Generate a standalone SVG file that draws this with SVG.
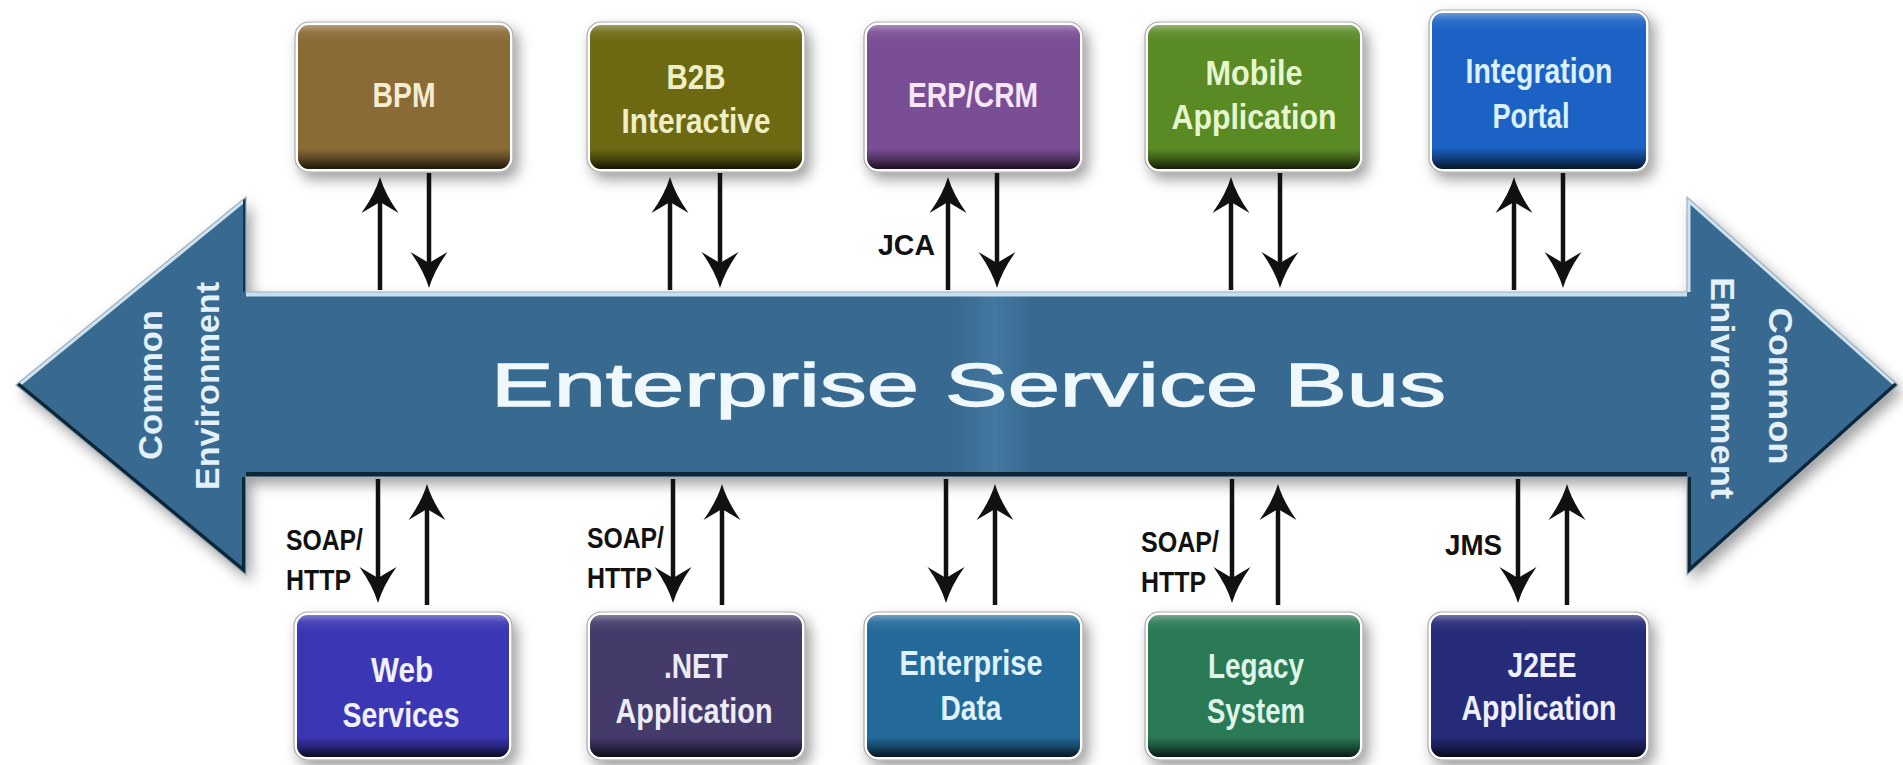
<svg xmlns="http://www.w3.org/2000/svg" width="1903" height="765" viewBox="0 0 1903 765">
<style>
  .frame { fill:#ffffff; stroke:#a9a9a9; stroke-width:1.2; }
  .lbl { font-family:"Liberation Sans Narrow","Liberation Sans",Arial,sans-serif; font-weight:bold; font-size:35px; text-anchor:middle; }
  .proto { font-family:"Liberation Sans Narrow","Liberation Sans",Arial,sans-serif; font-weight:bold; font-size:29px; fill:#111111; }
  .side { font-family:"Liberation Sans",Arial,sans-serif; font-weight:bold; font-size:34px; fill:#e2f1fb; text-anchor:middle; }
  .title { font-family:"Liberation Sans",Arial,sans-serif; font-size:62px; fill:#eef8fd; stroke:#eef8fd; stroke-width:1.3; }
  .conn line { stroke:#111111; stroke-width:4.5; fill:none; }
</style>
<defs>
  <filter id="sh" x="-15%" y="-15%" width="135%" height="145%">
    <feDropShadow dx="5" dy="7" stdDeviation="7" flood-color="#000000" flood-opacity="0.38"/>
  </filter>
  <linearGradient id="bevel" x1="0" y1="0" x2="0" y2="1">
    <stop offset="0" stop-color="#ffffff" stop-opacity="0.35"/>
    <stop offset="0.05" stop-color="#ffffff" stop-opacity="0.08"/>
    <stop offset="0.12" stop-color="#ffffff" stop-opacity="0"/>
    <stop offset="0.86" stop-color="#000000" stop-opacity="0"/>
    <stop offset="0.93" stop-color="#000000" stop-opacity="0.35"/>
    <stop offset="1" stop-color="#000000" stop-opacity="0.8"/>
  </linearGradient>
  <linearGradient id="busfill" gradientUnits="userSpaceOnUse" x1="16" y1="0" x2="1898" y2="0">
    <stop offset="0" stop-color="#386a90"/>
    <stop offset="0.5" stop-color="#386a91"/>
    <stop offset="0.52" stop-color="#4477a0"/>
    <stop offset="0.54" stop-color="#386a91"/>
    <stop offset="1" stop-color="#376990"/>
  </linearGradient>
  <clipPath id="busclip">
    <polygon points="16,385 246,197 246,292 1687,292 1687,197 1898,385 1687,575 1687,477 246,477 246,575"/>
  </clipPath>
  <marker id="ah" markerUnits="userSpaceOnUse" markerWidth="38" markerHeight="40" viewBox="0 -20 38 40" refX="11" refY="0" orient="auto">
    <path d="M36,0 Q19,-5 0,-18.5 L11,0 L0,18.5 Q19,5 36,0 Z" fill="#111111"/>
  </marker>
</defs>

<rect width="1903" height="765" fill="#ffffff"/>

<!-- Bus -->
<g id="bus">
  <polygon points="16,385 246,197 246,292 1687,292 1687,197 1898,385 1687,575 1687,477 246,477 246,575" fill="url(#busfill)" filter="url(#sh)"/>
  <g clip-path="url(#busclip)" fill="none">
    <polyline points="16,385 246,197" stroke="#cfe2ef" stroke-width="7"/>
    <line x1="246" y1="292" x2="1687" y2="292" stroke="#c9dfee" stroke-width="9"/>
    <polyline points="1687,292 1687,197 1898,385" stroke="#cfe2ef" stroke-width="7"/>
    <polyline points="1898,385 1687,575 1687,477" stroke="#0d2638" stroke-width="8"/>
    <line x1="246" y1="477" x2="1687" y2="477" stroke="#0d2638" stroke-width="10"/>
    <polyline points="246,477 246,575 16,385" stroke="#0d2638" stroke-width="8"/>
    <line x1="246" y1="197" x2="246" y2="292" stroke="#153550" stroke-width="6"/>
  </g>
  <polygon points="16,385 246,197 246,292 1687,292 1687,197 1898,385 1687,575 1687,477 246,477 246,575" fill="none" stroke="#9fb2c0" stroke-width="1.2"/>
  <text class="title" x="491" y="406" textLength="955" lengthAdjust="spacingAndGlyphs">Enterprise Service Bus</text>
  <text class="side" transform="translate(162,385) rotate(-90)" textLength="150" lengthAdjust="spacingAndGlyphs">Common</text>
  <text class="side" transform="translate(219,386) rotate(-90)" textLength="208" lengthAdjust="spacingAndGlyphs">Environment</text>
  <text class="side" transform="translate(1769,386) rotate(90)" textLength="157" lengthAdjust="spacingAndGlyphs">Common</text>
  <text class="side" transform="translate(1711,388) rotate(90)" textLength="222" lengthAdjust="spacingAndGlyphs">Enivronment</text>
</g>

<!-- Top nodes -->
<g id="bpm">
  <rect class="frame" x="295" y="22" width="218" height="150" rx="14" filter="url(#sh)"/>
  <rect x="298" y="25" width="212" height="144" rx="11" fill="#8a6a35"/>
  <rect x="298" y="25" width="212" height="144" rx="11" fill="url(#bevel)"/>
  <text class="lbl" x="404" y="107" fill="#f6ecd0" textLength="63" lengthAdjust="spacingAndGlyphs">BPM</text>
</g>
<g id="b2b">
  <rect class="frame" x="587" y="22" width="218" height="150" rx="14" filter="url(#sh)"/>
  <rect x="590" y="25" width="212" height="144" rx="11" fill="#6c6912"/>
  <rect x="590" y="25" width="212" height="144" rx="11" fill="url(#bevel)"/>
  <text class="lbl" x="696" y="89" fill="#efeec4" textLength="59" lengthAdjust="spacingAndGlyphs">B2B</text>
  <text class="lbl" x="696" y="133" fill="#efeec4" textLength="149" lengthAdjust="spacingAndGlyphs">Interactive</text>
</g>
<g id="erp">
  <rect class="frame" x="864" y="22" width="219" height="150" rx="14" filter="url(#sh)"/>
  <rect x="867" y="25" width="213" height="144" rx="11" fill="#7a4e94"/>
  <rect x="867" y="25" width="213" height="144" rx="11" fill="url(#bevel)"/>
  <text class="lbl" x="973" y="107" fill="#f7e6f8" textLength="130" lengthAdjust="spacingAndGlyphs">ERP/CRM</text>
</g>
<g id="mobile">
  <rect class="frame" x="1145" y="22" width="218" height="150" rx="14" filter="url(#sh)"/>
  <rect x="1148" y="25" width="212" height="144" rx="11" fill="#5a8a24"/>
  <rect x="1148" y="25" width="212" height="144" rx="11" fill="url(#bevel)"/>
  <text class="lbl" x="1254" y="85" fill="#e6f6cf" textLength="97" lengthAdjust="spacingAndGlyphs">Mobile</text>
  <text class="lbl" x="1254" y="129" fill="#e6f6cf" textLength="165" lengthAdjust="spacingAndGlyphs">Application</text>
</g>
<g id="portal">
  <rect class="frame" x="1429" y="10" width="220" height="162" rx="14" filter="url(#sh)"/>
  <rect x="1432" y="13" width="214" height="156" rx="11" fill="#1b62c4"/>
  <rect x="1432" y="13" width="214" height="156" rx="11" fill="url(#bevel)"/>
  <text class="lbl" x="1539" y="83" fill="#dbf1ff" textLength="147" lengthAdjust="spacingAndGlyphs">Integration</text>
  <text class="lbl" x="1531" y="128" fill="#dbf1ff" textLength="77" lengthAdjust="spacingAndGlyphs">Portal</text>
</g>

<!-- Bottom nodes -->
<g id="web">
  <rect class="frame" x="294" y="612" width="218" height="148" rx="14" filter="url(#sh)"/>
  <rect x="297" y="615" width="212" height="142" rx="11" fill="#3b36b4"/>
  <rect x="297" y="615" width="212" height="142" rx="11" fill="url(#bevel)"/>
  <text class="lbl" x="402" y="682" fill="#f0f0ff" textLength="62" lengthAdjust="spacingAndGlyphs">Web</text>
  <text class="lbl" x="401" y="727" fill="#f0f0ff" textLength="117" lengthAdjust="spacingAndGlyphs">Services</text>
</g>
<g id="dotnet">
  <rect class="frame" x="587" y="612" width="218" height="148" rx="14" filter="url(#sh)"/>
  <rect x="590" y="615" width="212" height="142" rx="11" fill="#453b6b"/>
  <rect x="590" y="615" width="212" height="142" rx="11" fill="url(#bevel)"/>
  <text class="lbl" x="696" y="678" fill="#ecebf6" textLength="64" lengthAdjust="spacingAndGlyphs">.NET</text>
  <text class="lbl" x="694" y="723" fill="#ecebf6" textLength="157" lengthAdjust="spacingAndGlyphs">Application</text>
</g>
<g id="data">
  <rect class="frame" x="864" y="612" width="219" height="148" rx="14" filter="url(#sh)"/>
  <rect x="867" y="615" width="213" height="142" rx="11" fill="#236a9b"/>
  <rect x="867" y="615" width="213" height="142" rx="11" fill="url(#bevel)"/>
  <text class="lbl" x="971" y="675" fill="#dff2ff" textLength="143" lengthAdjust="spacingAndGlyphs">Enterprise</text>
  <text class="lbl" x="971" y="720" fill="#dff2ff" textLength="61" lengthAdjust="spacingAndGlyphs">Data</text>
</g>
<g id="legacy">
  <rect class="frame" x="1145" y="612" width="218" height="148" rx="14" filter="url(#sh)"/>
  <rect x="1148" y="615" width="212" height="142" rx="11" fill="#2a7a55"/>
  <rect x="1148" y="615" width="212" height="142" rx="11" fill="url(#bevel)"/>
  <text class="lbl" x="1256" y="678" fill="#dff5ea" textLength="96" lengthAdjust="spacingAndGlyphs">Legacy</text>
  <text class="lbl" x="1256" y="723" fill="#dff5ea" textLength="98" lengthAdjust="spacingAndGlyphs">System</text>
</g>
<g id="j2ee">
  <rect class="frame" x="1428" y="612" width="221" height="148" rx="14" filter="url(#sh)"/>
  <rect x="1431" y="615" width="215" height="142" rx="11" fill="#252a79"/>
  <rect x="1431" y="615" width="215" height="142" rx="11" fill="url(#bevel)"/>
  <text class="lbl" x="1542" y="677" fill="#eef0ff" textLength="69" lengthAdjust="spacingAndGlyphs">J2EE</text>
  <text class="lbl" x="1539" y="720" fill="#eef0ff" textLength="155" lengthAdjust="spacingAndGlyphs">Application</text>
</g>

<!-- Connectors -->
<g id="connectors" class="conn">
  <line x1="380" y1="290" x2="380" y2="202" marker-end="url(#ah)"/>
  <line x1="429" y1="173" x2="429" y2="263" marker-end="url(#ah)"/>
  <line x1="670" y1="290" x2="670" y2="202" marker-end="url(#ah)"/>
  <line x1="720" y1="173" x2="720" y2="263" marker-end="url(#ah)"/>
  <line x1="948" y1="290" x2="948" y2="202" marker-end="url(#ah)"/>
  <line x1="997" y1="173" x2="997" y2="263" marker-end="url(#ah)"/>
  <line x1="1231" y1="290" x2="1231" y2="202" marker-end="url(#ah)"/>
  <line x1="1280" y1="173" x2="1280" y2="263" marker-end="url(#ah)"/>
  <line x1="1514" y1="290" x2="1514" y2="202" marker-end="url(#ah)"/>
  <line x1="1563" y1="173" x2="1563" y2="263" marker-end="url(#ah)"/>

  <line x1="378" y1="479" x2="378" y2="578" marker-end="url(#ah)"/>
  <line x1="427" y1="605" x2="427" y2="509" marker-end="url(#ah)"/>
  <line x1="673" y1="479" x2="673" y2="578" marker-end="url(#ah)"/>
  <line x1="722" y1="605" x2="722" y2="509" marker-end="url(#ah)"/>
  <line x1="946" y1="479" x2="946" y2="578" marker-end="url(#ah)"/>
  <line x1="995" y1="605" x2="995" y2="509" marker-end="url(#ah)"/>
  <line x1="1232" y1="479" x2="1232" y2="578" marker-end="url(#ah)"/>
  <line x1="1278" y1="605" x2="1278" y2="509" marker-end="url(#ah)"/>
  <line x1="1518" y1="479" x2="1518" y2="578" marker-end="url(#ah)"/>
  <line x1="1567" y1="605" x2="1567" y2="509" marker-end="url(#ah)"/>

  <text class="proto" x="878" y="255" textLength="57" lengthAdjust="spacingAndGlyphs">JCA</text>
  <text class="proto" x="286" y="550" textLength="77" lengthAdjust="spacingAndGlyphs">SOAP/</text>
  <text class="proto" x="286" y="590" textLength="65" lengthAdjust="spacingAndGlyphs">HTTP</text>
  <text class="proto" x="587" y="548" textLength="77" lengthAdjust="spacingAndGlyphs">SOAP/</text>
  <text class="proto" x="587" y="588" textLength="65" lengthAdjust="spacingAndGlyphs">HTTP</text>
  <text class="proto" x="1141" y="552" textLength="78" lengthAdjust="spacingAndGlyphs">SOAP/</text>
  <text class="proto" x="1141" y="592" textLength="65" lengthAdjust="spacingAndGlyphs">HTTP</text>
  <text class="proto" x="1445" y="555" textLength="57" lengthAdjust="spacingAndGlyphs">JMS</text>
</g>
</svg>
